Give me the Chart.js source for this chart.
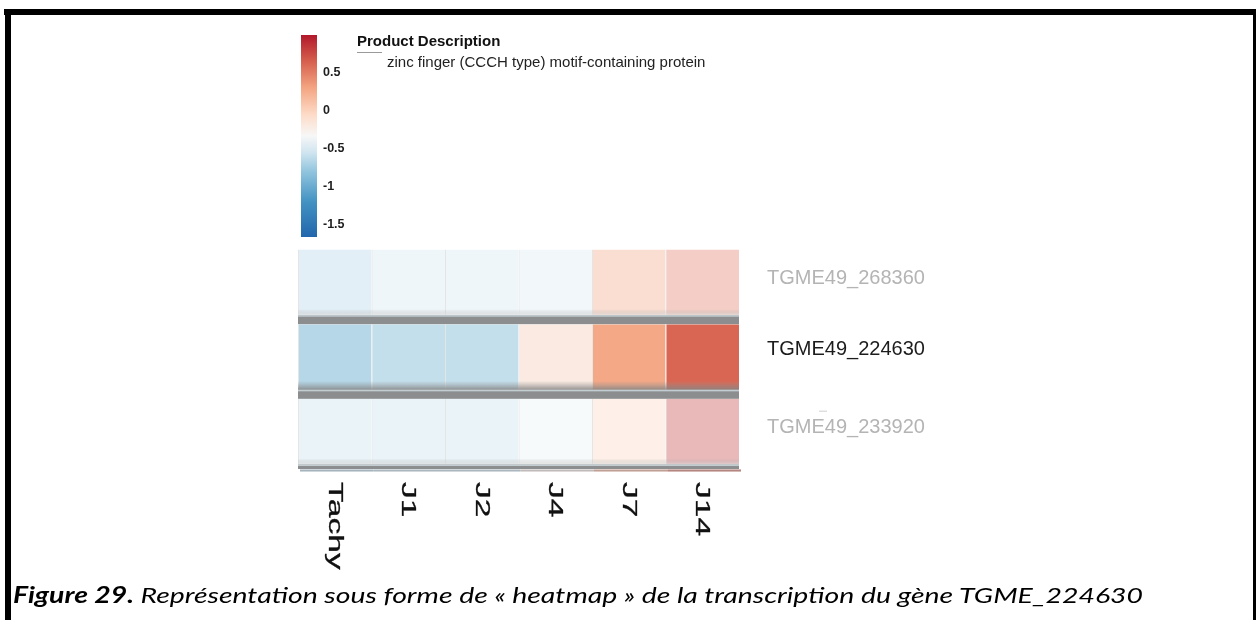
<!DOCTYPE html>
<html lang="fr">
<head>
<meta charset="utf-8">
<title>Heatmap TGME49_224630</title>
<script src="https://cdn.jsdelivr.net/npm/chart.js@4.4.1/dist/chart.umd.min.js"></script>
<style>
  html, body { margin: 0; padding: 0; background: #fff; }
  #page { position: relative; width: 1258px; height: 620px; overflow: hidden; }
  #wrap { position: absolute; left: 0; top: 0; width: 1258px; height: 620px; }
  .rule { position: absolute; background: #000; }
  #caption {
    position: absolute; left: 13px; top: 584px; white-space: nowrap;
    font: italic 22px/22px Lato, "Open Sans", sans-serif; color: #000;
    transform-origin: 0 0;
  }
  #caption b { font-weight: 700; }
</style>
</head>
<body>
<div id="page">
  <div id="wrap"><canvas id="heatCanvas"></canvas></div>
  <div class="rule" style="left:4px;top:9px;width:1252px;height:6px"></div>
  <div class="rule" style="left:5px;top:9px;width:6px;height:611px"></div>
  <div class="rule" style="left:1253px;top:9px;width:3px;height:611px"></div>
  <div id="caption"><b>Figure 29.</b> Représentation sous forme de « heatmap » de la transcription du gène TGME_224630</div>
</div>
<script>
(function() {
  'use strict';

  // ---------------------------------------------
  // Données
  // ---------------------------------------------
  const columns = ['Tachy', 'J1', 'J2', 'J4', 'J7', 'J14'];
  const genes = ['TGME49_268360', 'TGME49_224630', 'TGME49_233920'];

  const row268360 = [-0.70, -0.55, -0.55, -0.50, 0.32, 0.55];
  const row224630 = [-0.66, -0.60, -0.60, -0.20, 0.28, 0.62];
  const row233920 = [-0.60, -0.60, -0.60, -0.42, 0.00, 0.85];
  const matrix = [row268360, row224630, row233920];

  const highlighted = 'TGME49_224630';
  const productTitle = 'Product Description';
  const productText = 'zinc finger (CCCH type) motif-containing protein';

  const scaleTicks = [0.5, 0, -0.5, -1, -1.5];
  const scaleMin = -1.67;
  const scaleMax = 1.0;

  // palette RdBu, bornée sur [scaleMin, scaleMax]
  const cmapStops = [-1.67, -1.2, -0.8, -0.55, -0.33, -0.05, 0.3, 0.65, 1.0];
  const cmapColors = ['#2166ac', '#4393c3', '#92c5de', '#d1e5f0', '#f7f7f7',
                      '#fddbc7', '#f4a582', '#d6604d', '#b2182b'];

  function hexToRgb(h) {
    const n = parseInt(h.slice(1), 16);
    return [(n >> 16) & 255, (n >> 8) & 255, n & 255];
  }

  function colorFor(v, alpha) {
    let i = 0;
    while (i < cmapStops.length - 2 && v > cmapStops[i + 1]) i++;
    const t = Math.max(0, Math.min(1, (v - cmapStops[i]) / (cmapStops[i + 1] - cmapStops[i])));
    const a = hexToRgb(cmapColors[i]), b = hexToRgb(cmapColors[i + 1]);
    const c = a.map((x, k) => Math.round(x + (b[k] - x) * t));
    return 'rgba(' + c[0] + ',' + c[1] + ',' + c[2] + ',' + (alpha == null ? 1 : alpha) + ')';
  }

  function cellColor(row, col) {
    const faded = genes[row] !== highlighted;
    return colorFor(matrix[row][col], faded ? 0.35 : 1);
  }

  // une série par colonne, chaque cellule a une largeur d'une unité
  const datasets = columns.map(function(name, col) {
    return {
      label: name,
      data: genes.map(function() { return 1; }),
      backgroundColor: function(ctx) { return cellColor(ctx.dataIndex, col); },
      borderColor: 'rgba(150,150,150,0.25)',
      borderWidth: { left: 1, right: 0, top: 0, bottom: 0 },
      borderSkipped: false,
      categoryPercentage: 1,
      barPercentage: 0.88,
    };
  });

  // ---------------------------------------------
  // Bandes grises entre les lignes + ombrage
  // ---------------------------------------------
  function rowBounds(chart, i) {
    const meta = chart.getDatasetMeta(0).data[i];
    return { top: meta.y - meta.height / 2, bottom: meta.y + meta.height / 2 };
  }

  const bandPlugin = {
    id: 'rowBands',
    afterDatasetsDraw(chart) {
      const ctx = chart.ctx;
      const area = chart.chartArea;
      const xs = chart.scales.x;
      const left = xs.getPixelForValue(0), right = xs.getPixelForValue(columns.length);
      ctx.save();
      for (let i = 0; i < genes.length; i++) {
        const b = rowBounds(chart, i);
        const next = i < genes.length - 1 ? rowBounds(chart, i + 1).top : area.bottom;
        const dark = genes[i] === highlighted;
        // ombrage bas de ligne
        const h = dark ? 9 : 6;
        const g = ctx.createLinearGradient(0, b.bottom - h, 0, b.bottom);
        g.addColorStop(0, 'rgba(150,150,150,0)');
        g.addColorStop(1, dark ? 'rgba(130,130,130,0.85)' : 'rgba(225,225,225,0.6)');
        ctx.fillStyle = g;
        ctx.fillRect(left, b.bottom - h, right - left, h);
        // bande grise
        ctx.fillStyle = '#8b8d8e';
        ctx.fillRect(left, b.bottom, right - left, next - b.bottom);
        ctx.fillStyle = 'rgba(200,212,216,0.9)';
        ctx.fillRect(left, b.bottom, right - left, 1.5);
      }
      // filet coloré sous la heatmap
      for (let j = 0; j < columns.length; j++) {
        const x0 = xs.getPixelForValue(j), x1 = xs.getPixelForValue(j + 1);
        ctx.fillStyle = colorFor(row224630[j], 0.6);
        ctx.fillRect(x0 + 2, area.bottom + 0.5, x1 - x0, 2);
        ctx.fillStyle = 'rgba(80,80,90,0.35)';
        ctx.fillRect(x0 + 2, area.bottom + 0.5, x1 - x0, 2);
      }
      ctx.restore();
    }
  };

  // ---------------------------------------------
  // Libellés, légende et échelle de couleur
  // ---------------------------------------------
  const labelPlugin = {
    id: 'heatLabels',
    afterDraw(chart) {
      const ctx = chart.ctx;
      const area = chart.chartArea;
      const xs = chart.scales.x, ys = chart.scales.y;
      ctx.save();

      // noms des gènes à droite
      ctx.textAlign = 'left';
      ctx.textBaseline = 'middle';
      ctx.font = '20px "Liberation Sans", Arial, sans-serif';
      genes.forEach(function(g, i) {
        const on = g === highlighted;
        ctx.fillStyle = on ? '#1c1c1c' : '#b4b4b4';
        ctx.fillText(g, area.right + 28, ys.getPixelForValue(i) - (on ? 8 : 4));
      });
      // petit tiret au-dessus du troisième libellé
      ctx.fillStyle = '#d0d0d0';
      ctx.fillRect(area.right + 80, ys.getPixelForValue(2) - 21, 8, 1);

      // conditions en bas, texte vertical étiré
      ctx.fillStyle = '#111';
      ctx.strokeStyle = '#111';
      ctx.lineWidth = 0.3;
      ctx.font = '21px "Liberation Sans", Arial, sans-serif';
      columns.forEach(function(c, j) {
        ctx.save();
        ctx.translate(xs.getPixelForValue(j + 0.5), area.bottom + 13);
        ctx.rotate(Math.PI / 2);
        ctx.scale(1.6, 1);
        ctx.textBaseline = 'middle';
        ctx.fillText(c, 0, 0);
        ctx.strokeText(c, 0, 0);
        ctx.restore();
      });

      // échelle de couleur
      const cbX = 301, cbW = 16, cbTop = 35, cbBottom = 237;
      const grad = ctx.createLinearGradient(0, cbBottom, 0, cbTop);
      cmapStops.forEach(function(v, k) {
        grad.addColorStop((v - scaleMin) / (scaleMax - scaleMin), cmapColors[k]);
      });
      ctx.fillStyle = grad;
      ctx.fillRect(cbX, cbTop, cbW, cbBottom - cbTop);

      ctx.fillStyle = '#1e1e1e';
      ctx.font = 'bold 12.5px "Liberation Sans", Arial, sans-serif';
      ctx.textBaseline = 'middle';
      scaleTicks.forEach(function(v) {
        const y = cbBottom - (v - scaleMin) / (scaleMax - scaleMin) * (cbBottom - cbTop);
        ctx.fillText(String(v), cbX + 22, y);
      });

      // description du produit
      ctx.font = 'bold 15px "Liberation Sans", Arial, sans-serif';
      ctx.fillStyle = '#111';
      ctx.fillText(productTitle, 357, 42);
      ctx.fillStyle = '#9a9a9a';
      ctx.fillRect(357, 52, 25, 1);
      ctx.font = '15px "Liberation Sans", Arial, sans-serif';
      ctx.fillStyle = '#222';
      ctx.fillText(productText, 387, 63);

      ctx.restore();
    }
  };

  const heatCtx = document.getElementById('heatCanvas');
  new Chart(heatCtx, {
    type: 'bar',
    data: { labels: genes, datasets },
    options: {
      indexAxis: 'y',
      responsive: true,
      maintainAspectRatio: false,
      animation: false,
      layout: { padding: { left: 298, right: 519, top: 245, bottom: 151 } },
      plugins: {
        legend: { display: false },
        tooltip: { enabled: false },
      },
      scales: {
        x: { type: 'linear', stacked: true, min: 0, max: columns.length, display: false },
        y: { stacked: true, display: false },
      }
    },
    plugins: [bandPlugin, labelPlugin]
  });

  // légende de figure ajustée à la largeur de la page
  const cap = document.getElementById('caption');
  const w = cap.getBoundingClientRect().width;
  cap.style.transform = 'scaleX(' + (1130 / w).toFixed(4) + ')';
})();
</script>
</body>
</html>
